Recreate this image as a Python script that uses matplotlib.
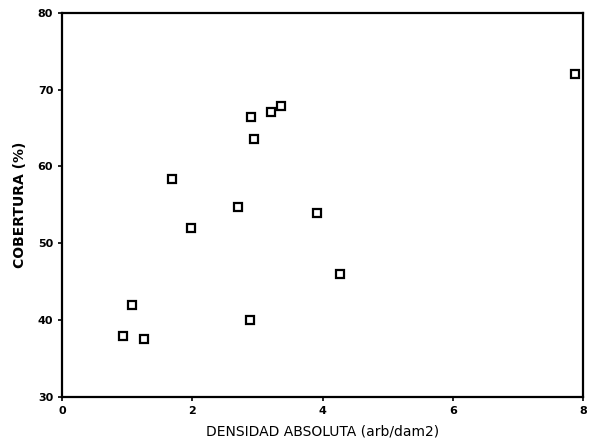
import matplotlib
matplotlib.use('Agg')
import matplotlib.pyplot as plt

# Datos
densidad = [0.93, 1.08, 1.25, 2.89, 2.90, 3.21, 3.36, 2.95, 1.69, 2.70, 1.98, 3.91, 4.27, 7.88]
cobertura = [37.9, 42.0, 37.6, 40.0, 66.5, 67.1, 67.9, 63.6, 58.4, 54.7, 52.0, 54.0, 46.0, 72.1]

x_ticks = [0, 2, 4, 6, 8]
y_ticks = [30, 40, 50, 60, 70, 80]

fig = plt.figure(figsize=(5.92, 4.44), dpi=100)
ax = fig.add_axes([0.105, 0.106, 0.88, 0.865])

ax.plot(densidad, cobertura, linestyle='none', marker='s', markersize=6,
        markerfacecolor='white', markeredgecolor='black', markeredgewidth=1.6)

ax.set_xlim(0, 8)
ax.set_ylim(30, 80)
ax.set_xticks(x_ticks)
ax.set_yticks(y_ticks)
ax.tick_params(direction='out', length=3, width=1.2, labelsize=8)
for lbl in ax.get_xticklabels() + ax.get_yticklabels():
    lbl.set_fontweight('bold')

for s in ax.spines.values():
    s.set_linewidth(1.6)

ax.set_xlabel('DENSIDAD ABSOLUTA (arb/dam2)', fontsize=10, labelpad=6)
ax.set_ylabel('COBERTURA (%)', fontsize=10, fontweight='bold', labelpad=8)

fig.savefig('out.png', dpi=100)
